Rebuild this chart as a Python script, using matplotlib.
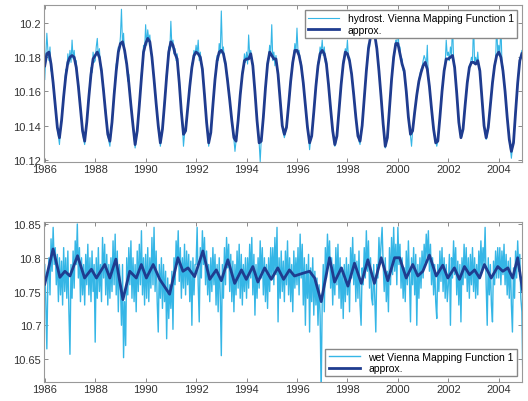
import numpy as np
import matplotlib
matplotlib.use("Agg")
import matplotlib.pyplot as plt
from matplotlib.ticker import FuncFormatter

plt.rcParams['font.family'] = ['Liberation Sans', 'DejaVu Sans']

# hydrostatic VMF1, smoothed approximation (monthly, from 1986.0)
hydro_approx = [
    10.175, 10.182, 10.183, 10.176, 10.165, 10.152, 10.139, 10.133, 10.143, 10.157, 10.169, 10.177,
    10.180, 10.181, 10.180, 10.174, 10.163, 10.150, 10.137, 10.131, 10.142, 10.157, 10.170, 10.179,
    10.181, 10.183, 10.180, 10.172, 10.160, 10.147, 10.135, 10.131, 10.142, 10.158, 10.172, 10.183,
    10.188, 10.189, 10.184, 10.176, 10.165, 10.152, 10.140, 10.129, 10.137, 10.152, 10.168, 10.183,
    10.188, 10.191, 10.189, 10.180, 10.167, 10.153, 10.140, 10.130, 10.138, 10.153, 10.169, 10.183,
    10.189, 10.187, 10.182, 10.179, 10.165, 10.148, 10.135, 10.137, 10.150, 10.163, 10.174, 10.181,
    10.183, 10.182, 10.180, 10.173, 10.158, 10.142, 10.130, 10.136, 10.152, 10.167, 10.178, 10.183,
    10.184, 10.182, 10.176, 10.166, 10.155, 10.143, 10.133, 10.131, 10.143, 10.158, 10.170, 10.178,
    10.179, 10.179, 10.182, 10.175, 10.160, 10.143, 10.130, 10.131, 10.145, 10.162, 10.176, 10.183,
    10.181, 10.179, 10.179, 10.170, 10.155, 10.140, 10.135, 10.139, 10.152, 10.166, 10.177, 10.184,
    10.184, 10.181, 10.175, 10.165, 10.152, 10.139, 10.130, 10.134, 10.148, 10.163, 10.175, 10.182,
    10.184, 10.182, 10.176, 10.164, 10.150, 10.137, 10.129, 10.134, 10.149, 10.164, 10.176, 10.183,
    10.182, 10.178, 10.170, 10.158, 10.145, 10.134, 10.131, 10.140, 10.156, 10.172, 10.185, 10.192,
    10.194, 10.193, 10.185, 10.172, 10.157, 10.141, 10.128, 10.133, 10.150, 10.167, 10.180, 10.188,
    10.188, 10.182, 10.176, 10.172, 10.160, 10.145, 10.135, 10.137, 10.148, 10.158, 10.166, 10.171,
    10.175, 10.177, 10.173, 10.163, 10.150, 10.138, 10.130, 10.131, 10.145, 10.160, 10.172, 10.179,
    10.179, 10.180, 10.181, 10.174, 10.159, 10.142, 10.133, 10.138, 10.152, 10.165, 10.174, 10.177,
    10.177, 10.176, 10.178, 10.172, 10.156, 10.140, 10.133, 10.139, 10.152, 10.165, 10.175, 10.181,
    10.183, 10.180, 10.172, 10.160, 10.145, 10.132, 10.125, 10.130, 10.148, 10.165, 10.178, 10.182,
]

# hydrostatic VMF1 series (half-monthly, from 1986.0)
hydro_raw = [
    10.167, 10.181, 10.194, 10.184, 10.178, 10.186, 10.172, 10.171, 10.164, 10.157, 10.151, 10.145,
    10.138, 10.134, 10.129, 10.137, 10.144, 10.151, 10.158, 10.164, 10.173, 10.172, 10.182, 10.176,
    10.184, 10.177, 10.190, 10.179, 10.184, 10.176, 10.178, 10.168, 10.165, 10.157, 10.151, 10.143,
    10.136, 10.132, 10.129, 10.136, 10.143, 10.150, 10.159, 10.165, 10.174, 10.171, 10.183, 10.177,
    10.178, 10.186, 10.191, 10.180, 10.185, 10.175, 10.174, 10.166, 10.162, 10.154, 10.149, 10.140,
    10.134, 10.131, 10.128, 10.136, 10.143, 10.150, 10.160, 10.165, 10.176, 10.178, 10.186, 10.184,
    10.192, 10.208, 10.187, 10.194, 10.181, 10.178, 10.176, 10.166, 10.170, 10.158, 10.153, 10.146,
    10.139, 10.133, 10.127, 10.132, 10.138, 10.145, 10.153, 10.160, 10.171, 10.175, 10.187, 10.184,
    10.199, 10.187, 10.196, 10.190, 10.193, 10.183, 10.181, 10.172, 10.168, 10.161, 10.154, 10.146,
    10.139, 10.134, 10.128, 10.133, 10.138, 10.146, 10.155, 10.160, 10.172, 10.176, 10.186, 10.184,
    10.201, 10.186, 10.190, 10.182, 10.185, 10.178, 10.182, 10.171, 10.166, 10.156, 10.149, 10.140,
    10.128, 10.135, 10.138, 10.143, 10.151, 10.157, 10.164, 10.169, 10.176, 10.178, 10.184, 10.181,
    10.187, 10.182, 10.190, 10.178, 10.183, 10.176, 10.175, 10.165, 10.159, 10.150, 10.143, 10.135,
    10.128, 10.133, 10.137, 10.144, 10.153, 10.160, 10.168, 10.173, 10.181, 10.178, 10.188, 10.182,
    10.207, 10.184, 10.186, 10.177, 10.178, 10.170, 10.168, 10.160, 10.156, 10.149, 10.144, 10.137,
    10.132, 10.125, 10.131, 10.137, 10.144, 10.150, 10.159, 10.164, 10.172, 10.174, 10.182, 10.177,
    10.183, 10.176, 10.193, 10.181, 10.184, 10.179, 10.176, 10.167, 10.161, 10.151, 10.144, 10.136,
    10.130, 10.119, 10.132, 10.138, 10.146, 10.153, 10.163, 10.169, 10.178, 10.180, 10.187, 10.182,
    10.199, 10.178, 10.183, 10.175, 10.181, 10.173, 10.171, 10.162, 10.156, 10.147, 10.141, 10.136,
    10.133, 10.136, 10.140, 10.145, 10.153, 10.158, 10.167, 10.172, 10.179, 10.181, 10.188, 10.183,
    10.197, 10.183, 10.184, 10.178, 10.177, 10.170, 10.166, 10.158, 10.153, 10.145, 10.140, 10.134,
    10.126, 10.132, 10.135, 10.141, 10.149, 10.155, 10.164, 10.170, 10.177, 10.179, 10.186, 10.183,
    10.190, 10.181, 10.186, 10.177, 10.179, 10.170, 10.165, 10.157, 10.151, 10.143, 10.138, 10.132,
    10.128, 10.130, 10.135, 10.141, 10.150, 10.156, 10.165, 10.170, 10.178, 10.180, 10.185, 10.182,
    10.190, 10.179, 10.180, 10.173, 10.171, 10.164, 10.159, 10.151, 10.146, 10.139, 10.135, 10.131,
    10.129, 10.135, 10.141, 10.147, 10.157, 10.164, 10.173, 10.180, 10.188, 10.186, 10.196, 10.192,
    10.198, 10.192, 10.197, 10.188, 10.186, 10.178, 10.173, 10.164, 10.158, 10.149, 10.142, 10.134,
    10.127, 10.130, 10.134, 10.141, 10.151, 10.158, 10.168, 10.174, 10.182, 10.183, 10.190, 10.187,
    10.201, 10.184, 10.186, 10.178, 10.179, 10.172, 10.173, 10.166, 10.161, 10.152, 10.146, 10.139,
    10.134, 10.128, 10.137, 10.142, 10.149, 10.153, 10.159, 10.162, 10.167, 10.170, 10.173, 10.174,
    10.178, 10.181, 10.179, 10.174, 10.187, 10.167, 10.164, 10.156, 10.151, 10.143, 10.139, 10.133,
    10.131, 10.128, 10.131, 10.138, 10.146, 10.153, 10.161, 10.166, 10.173, 10.176, 10.190, 10.181,
    10.183, 10.178, 10.186, 10.181, 10.200, 10.179, 10.175, 10.166, 10.160, 10.150, 10.143, 10.137,
    10.133, 10.134, 10.139, 10.145, 10.153, 10.158, 10.166, 10.170, 10.175, 10.176, 10.180, 10.178,
    10.200, 10.177, 10.180, 10.176, 10.183, 10.175, 10.173, 10.164, 10.157, 10.148, 10.141, 10.136,
    10.132, 10.134, 10.140, 10.145, 10.153, 10.158, 10.166, 10.170, 10.176, 10.178, 10.200, 10.182,
    10.187, 10.182, 10.200, 10.177, 10.174, 10.166, 10.161, 10.153, 10.146, 10.138, 10.133, 10.127,
    10.121, 10.127, 10.131, 10.139, 10.149, 10.156, 10.166, 10.172, 10.179, 10.181, 10.184, 10.182,
]

# wet VMF1, smoothed approximation (irregular epochs)
wet_approx_t = [
    1986.0, 1986.33, 1986.6, 1986.8, 1987.0, 1987.3, 1987.58, 1987.85, 1988.05, 1988.38,
    1988.58, 1988.82, 1989.1, 1989.37, 1989.63, 1989.83, 1990.03, 1990.3, 1990.56, 1990.95,
    1991.28, 1991.48, 1991.68, 1991.94, 1992.27, 1992.54, 1992.8, 1993.0, 1993.26, 1993.53,
    1993.8, 1993.99, 1994.25, 1994.45, 1994.72, 1994.98, 1995.24, 1995.47, 1995.7, 1995.9,
    1996.23, 1996.5, 1996.7, 1996.96, 1997.29, 1997.49, 1997.76, 1998.02, 1998.28, 1998.55,
    1998.81, 1999.07, 1999.34, 1999.6, 1999.87, 2000.07, 2000.33, 2000.59, 2000.79, 2000.99,
    2001.25, 2001.52, 2001.78, 2001.98, 2002.24, 2002.44, 2002.64, 2002.84, 2003.04, 2003.24,
    2003.43, 2003.7, 2003.96, 2004.16, 2004.36, 2004.55, 2004.75, 2004.95,
]
wet_approx = [
    10.761, 10.813, 10.771, 10.780, 10.773, 10.803, 10.770, 10.783, 10.770, 10.790,
    10.770, 10.798, 10.738, 10.780, 10.770, 10.790, 10.770, 10.790, 10.768, 10.746,
    10.800, 10.780, 10.785, 10.772, 10.810, 10.768, 10.782, 10.766, 10.797, 10.762,
    10.782, 10.768, 10.787, 10.764, 10.785, 10.768, 10.785, 10.768, 10.782, 10.773,
    10.777, 10.780, 10.770, 10.735, 10.800, 10.764, 10.785, 10.758, 10.792, 10.762,
    10.797, 10.762, 10.800, 10.766, 10.800, 10.800, 10.770, 10.790, 10.773, 10.780,
    10.804, 10.773, 10.789, 10.770, 10.785, 10.768, 10.787, 10.775, 10.782, 10.770,
    10.790, 10.770, 10.787, 10.780, 10.785, 10.770, 10.800, 10.750,
]

# wet VMF1 series (half-monthly, from 1986.0)
wet_raw = [
    10.790, 10.735, 10.665, 10.770, 10.800, 10.745, 10.828, 10.780, 10.845, 10.790, 10.815, 10.760,
    10.805, 10.735, 10.800, 10.745, 10.795, 10.730, 10.815, 10.750, 10.800, 10.740, 10.810, 10.720,
    10.657, 10.790, 10.740, 10.810, 10.755, 10.825, 10.790, 10.850, 10.770, 10.815, 10.735, 10.800,
    10.745, 10.790, 10.730, 10.805, 10.760, 10.820, 10.745, 10.800, 10.735, 10.810, 10.750, 10.790,
    10.675, 10.800, 10.740, 10.815, 10.750, 10.790, 10.735, 10.830, 10.770, 10.820, 10.745, 10.805,
    10.730, 10.790, 10.740, 10.800, 10.750, 10.825, 10.760, 10.835, 10.745, 10.810, 10.720, 10.790,
    10.760, 10.700, 10.790, 10.652, 10.735, 10.670, 10.800, 10.745, 10.815, 10.760, 10.825, 10.740,
    10.800, 10.735, 10.790, 10.720, 10.810, 10.750, 10.820, 10.760, 10.840, 10.745, 10.800, 10.730,
    10.805, 10.740, 10.815, 10.735, 10.800, 10.755, 10.830, 10.760, 10.845, 10.750, 10.810, 10.735,
    10.690, 10.790, 10.740, 10.800, 10.725, 10.790, 10.735, 10.780, 10.680, 10.770, 10.710, 10.760,
    10.725, 10.780, 10.694, 10.800, 10.760, 10.825, 10.790, 10.840, 10.765, 10.815, 10.740, 10.800,
    10.755, 10.820, 10.745, 10.810, 10.760, 10.805, 10.735, 10.795, 10.700, 10.800, 10.745, 10.790,
    10.790, 10.845, 10.760, 10.705, 10.815, 10.770, 10.840, 10.790, 10.830, 10.760, 10.810, 10.745,
    10.790, 10.735, 10.800, 10.750, 10.815, 10.760, 10.805, 10.730, 10.790, 10.720, 10.800, 10.745,
    10.655, 10.790, 10.740, 10.815, 10.760, 10.830, 10.785, 10.820, 10.750, 10.805, 10.735, 10.795,
    10.720, 10.790, 10.745, 10.810, 10.755, 10.820, 10.740, 10.805, 10.730, 10.790, 10.750, 10.800,
    10.740, 10.800, 10.755, 10.820, 10.770, 10.830, 10.745, 10.805, 10.715, 10.790, 10.740, 10.800,
    10.755, 10.825, 10.770, 10.815, 10.745, 10.800, 10.735, 10.790, 10.725, 10.800, 10.750, 10.815,
    10.770, 10.815, 10.760, 10.830, 10.775, 10.845, 10.705, 10.800, 10.740, 10.810, 10.750, 10.795,
    10.735, 10.810, 10.760, 10.825, 10.745, 10.800, 10.735, 10.790, 10.720, 10.810, 10.755, 10.800,
    10.760, 10.815, 10.745, 10.835, 10.770, 10.820, 10.730, 10.800, 10.700, 10.790, 10.740, 10.805,
    10.690, 10.785, 10.735, 10.800, 10.715, 10.780, 10.730, 10.770, 10.700, 10.760, 10.715, 10.600,
    10.735, 10.790, 10.720, 10.815, 10.770, 10.835, 10.790, 10.825, 10.755, 10.800, 10.730, 10.790,
    10.745, 10.815, 10.760, 10.820, 10.740, 10.800, 10.725, 10.785, 10.710, 10.790, 10.735, 10.800,
    10.745, 10.790, 10.720, 10.815, 10.770, 10.830, 10.760, 10.805, 10.735, 10.795, 10.740, 10.810,
    10.730, 10.700, 10.785, 10.760, 10.815, 10.770, 10.840, 10.780, 10.825, 10.755, 10.800, 10.740,
    10.730, 10.790, 10.740, 10.690, 10.790, 10.770, 10.830, 10.790, 10.820, 10.845, 10.790, 10.750,
    10.800, 10.735, 10.780, 10.720, 10.815, 10.760, 10.830, 10.775, 10.845, 10.780, 10.820, 10.760,
    10.845, 10.790, 10.820, 10.755, 10.800, 10.740, 10.785, 10.735, 10.810, 10.760, 10.825, 10.770,
    10.705, 10.800, 10.760, 10.815, 10.745, 10.805, 10.700, 10.790, 10.740, 10.800, 10.755, 10.810,
    10.770, 10.820, 10.790, 10.835, 10.800, 10.840, 10.780, 10.820, 10.760, 10.800, 10.745, 10.790,
    10.735, 10.710, 10.790, 10.750, 10.810, 10.765, 10.815, 10.750, 10.800, 10.740, 10.790, 10.735,
    10.760, 10.805, 10.700, 10.800, 10.770, 10.825, 10.775, 10.815, 10.745, 10.795, 10.730, 10.790,
    10.705, 10.800, 10.760, 10.820, 10.770, 10.815, 10.750, 10.800, 10.740, 10.805, 10.760, 10.815,
    10.750, 10.800, 10.740, 10.790, 10.745, 10.810, 10.775, 10.825, 10.780, 10.815, 10.790, 10.845,
    10.760, 10.700, 10.800, 10.745, 10.790, 10.730, 10.705, 10.795, 10.760, 10.810, 10.770, 10.815,
    10.770, 10.815, 10.760, 10.810, 10.775, 10.820, 10.760, 10.805, 10.745, 10.795, 10.740, 10.800,
    10.730, 10.690, 10.785, 10.740, 10.810, 10.770, 10.825, 10.780, 10.805, 10.740, 10.720, 10.610,
]

year_ticks = list(range(1986, 2005, 2))
light = '#35b6e6'
dark = '#1f3c8f'

hydro_t = 1986 + np.arange(len(hydro_approx)) / 12
hydro_raw_t = 1986 + np.arange(len(hydro_raw)) / 24
wet_raw_t = 1986 + np.arange(len(wet_raw)) / 24

fig = plt.figure(figsize=(5.28, 4.02), dpi=100)
ax1 = fig.add_axes([0.0833, 0.5953, 0.9053, 0.3898])
ax2 = fig.add_axes([0.0833, 0.048, 0.9053, 0.398])

ax1.plot(hydro_raw_t, hydro_raw, color=light, lw=0.8, label='hydrost. Vienna Mapping Function 1')
ax1.plot(hydro_t, hydro_approx, color=dark, lw=2.0, label='approx.')
ax1.set_ylim(10.119, 10.2105)
ax1.set_yticks([10.12, 10.14, 10.16, 10.18, 10.2])

ax2.plot(wet_raw_t, wet_raw, color=light, lw=1.0, label='wet Vienna Mapping Function 1')
ax2.plot(wet_approx_t, wet_approx, color=dark, lw=2.0, label='approx.')
ax2.set_ylim(10.6164, 10.8534)
ax2.set_yticks([10.65, 10.7, 10.75, 10.8, 10.85])

for ax in (ax1, ax2):
    ax.set_xlim(1985.97, 2004.92)
    ax.set_xticks(year_ticks)
    ax.yaxis.set_major_formatter(FuncFormatter(lambda v, p: f'{v:g}'))
    ax.tick_params(direction='in', top=True, right=True, length=3, width=0.6,
                   color='#777777', labelsize=8, labelcolor='#333333', pad=2)
    for s in ax.spines.values():
        s.set_color('#999999')
        s.set_linewidth(0.8)

leg_kw = dict(fontsize=7.5, fancybox=False, edgecolor='#888888', framealpha=1,
              handlelength=3.0, borderpad=0.3, labelspacing=0.15, borderaxespad=0.5)
ax1.legend(loc='upper right', **leg_kw)
ax2.legend(loc='lower right', **leg_kw)

fig.savefig('out.png', dpi=100)
